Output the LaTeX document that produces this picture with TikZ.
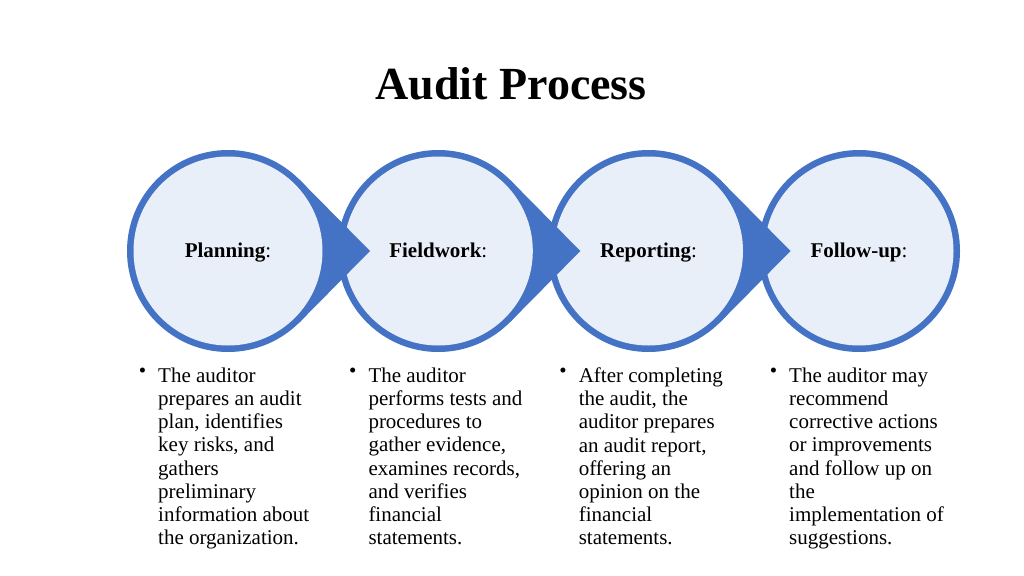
\documentclass[tikz,border=0pt]{standalone}
\usepackage{fontspec}
\setmainfont{Liberation Serif}
\usepackage{xcolor}
\usepackage{tikz}
\definecolor{auditblue}{RGB}{68,114,196}
\definecolor{auditlight}{RGB}{233,239,248}
\tikzstyle{ring} = [circle, fill=auditblue, minimum size=202pt, inner sep=0pt, outer sep=0pt]
\tikzstyle{stage} = [circle, fill=auditlight, minimum size=189pt, inner sep=0pt, text height=14.5pt, text depth=2.5pt, font=\fontsize{21}{23}\selectfont]
\tikzstyle{body} = [anchor=north west, align=left, inner sep=0pt, font=\fontsize{21}{23.2}\selectfont]
\tikzstyle{dot} = [anchor=base, inner sep=0pt, font=\fontsize{21}{21}\selectfont]
\tikzset{wedge/.style = {fill=auditblue}}

\begin{document}
\begin{tikzpicture}[x=1pt, y=-1pt]
            \useasboundingbox (0,0) rectangle (1024,575);
            % title
            \node[font=\bfseries\fontsize{46}{46}\selectfont] (title) at (511, 84) {Audit Process};

            % stages, right to left so that each point lies on the next circle
            \node[ring] (r4) at (859, 251) {};
            \node[stage] (s4) at (859, 251) {\textbf{Follow-up}:};

            \node[ring] (r3) at (648.5, 251) {};
            \coordinate (t3) at (790.5, 251);
            \fill[wedge] (r3.45) -- (t3) -- (r3.-45) -- cycle;
            \node[stage] (s3) at (648.5, 251) {\textbf{Reporting}:};

            \node[ring] (r2) at (438.3, 251) {};
            \coordinate (t2) at (580.3, 251);
            \fill[wedge] (r2.45) -- (t2) -- (r2.-45) -- cycle;
            \node[stage] (s2) at (438.3, 251) {\textbf{Fieldwork}:};

            \node[ring] (r1) at (228, 251) {};
            \coordinate (t1) at (370, 251);
            \fill[wedge] (r1.45) -- (t1) -- (r1.-45) -- cycle;
            \node[stage] (s1) at (228, 251) {\textbf{Planning}:};

            % bullet texts
            \node[body] (d1) at (158, 367.5) {The auditor\\prepares an audit\\plan, identifies\\key risks, and\\gathers\\preliminary\\information about\\the organization.};
            \node[body] (d2) at (368.3, 367.5) {The auditor\\performs tests and\\procedures to\\gather evidence,\\examines records,\\and verifies\\financial\\statements.};
            \node[body] (d3) at (578.6, 367.5) {After completing\\the audit, the\\auditor prepares\\an audit report,\\offering an\\opinion on the\\financial\\statements.};
            \node[body] (d4) at (789, 367.5) {The auditor may\\recommend\\corrective actions\\or improvements\\and follow up on\\the\\implementation of\\suggestions.};

            \node[dot] (b1) at (142.5, 377) {•};
            \node[dot] (b2) at (352.8, 377) {•};
            \node[dot] (b3) at (563.1, 377) {•};
            \node[dot] (b4) at (773.5, 377) {•};
\end{tikzpicture}
\end{document}
